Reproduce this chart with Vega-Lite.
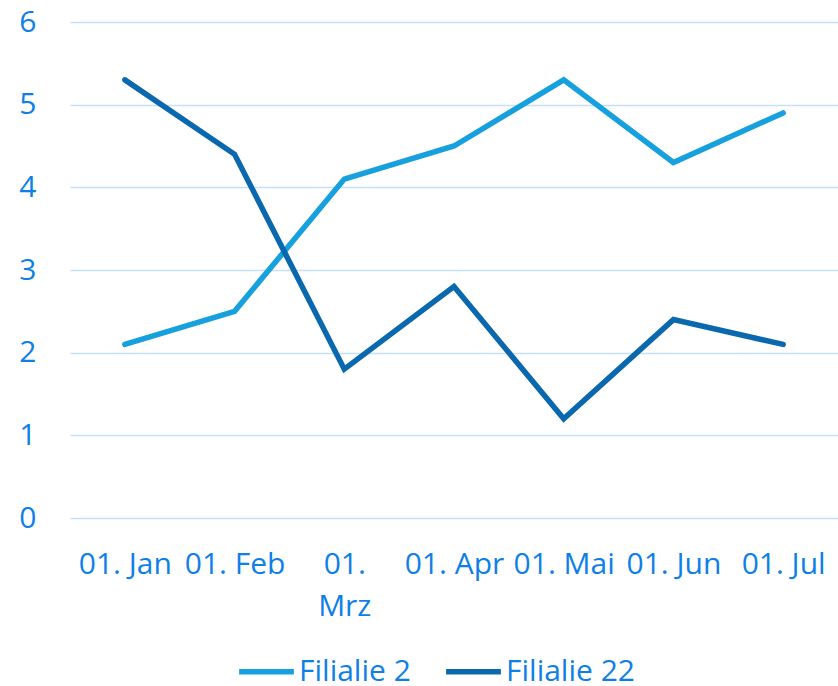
{
  "$schema": "https://vega.github.io/schema/vega-lite/v6.json",
  "width": 768,
  "height": 496,
  "autosize": "none",
  "padding": {"left": 70, "top": 22, "right": 0, "bottom": 168},
  "background": "white",
  "config": {
    "font": "Open Sans",
    "view": {"stroke": null}
  },
  "data": {
    "values": [
      {"datum": "01. Jan", "serie": "Filialie 2", "wert": 2.1},
      {"datum": "01. Feb", "serie": "Filialie 2", "wert": 2.5},
      {"datum": "01. Mrz", "serie": "Filialie 2", "wert": 4.1},
      {"datum": "01. Apr", "serie": "Filialie 2", "wert": 4.5},
      {"datum": "01. Mai", "serie": "Filialie 2", "wert": 5.3},
      {"datum": "01. Jun", "serie": "Filialie 2", "wert": 4.3},
      {"datum": "01. Jul", "serie": "Filialie 2", "wert": 4.9},
      {"datum": "01. Jan", "serie": "Filialie 22", "wert": 5.3},
      {"datum": "01. Feb", "serie": "Filialie 22", "wert": 4.4},
      {"datum": "01. Mrz", "serie": "Filialie 22", "wert": 1.8},
      {"datum": "01. Apr", "serie": "Filialie 22", "wert": 2.8},
      {"datum": "01. Mai", "serie": "Filialie 22", "wert": 1.2},
      {"datum": "01. Jun", "serie": "Filialie 22", "wert": 2.4},
      {"datum": "01. Jul", "serie": "Filialie 22", "wert": 2.1}
    ]
  },
  "mark": {"type": "line", "strokeWidth": 5.5, "strokeCap": "round", "strokeJoin": "miter"},
  "encoding": {
    "x": {
      "field": "datum",
      "type": "ordinal",
      "sort": null,
      "scale": {"type": "point", "padding": 0.5},
      "axis": {
        "title": null,
        "labelAngle": 0,
        "labelFontSize": 30,
        "labelColor": "#0f7fe8",
        "labelPadding": 31,
        "labelLineHeight": 42,
        "labelExpr": "datum.label == '01. Mrz' ? ['01.', 'Mrz'] : datum.label",
        "labelOverlap": false,
        "ticks": false,
        "domain": false,
        "grid": false
      }
    },
    "y": {
      "field": "wert",
      "type": "quantitative",
      "scale": {"domain": [0, 6], "nice": false},
      "axis": {
        "title": null,
        "values": [0, 1, 2, 3, 4, 5, 6],
        "format": "d",
        "labelFontSize": 30,
        "labelColor": "#0f7fe8",
        "labelPadding": 34,
        "ticks": false,
        "domain": false,
        "grid": true,
        "gridColor": "#c6e0f6",
        "gridWidth": 1.5
      }
    },
    "color": {
      "field": "serie",
      "type": "nominal",
      "scale": {"domain": ["Filialie 2", "Filialie 22"], "range": ["#16a0dd", "#0a68ae"]},
      "legend": {
        "title": null,
        "orient": "none",
        "legendX": 166,
        "legendY": 619,
        "direction": "horizontal",
        "symbolType": "stroke",
        "symbolSize": 3000,
        "symbolStrokeWidth": 5.5,
        "labelFontSize": 30,
        "labelColor": "#0f7fe8",
        "labelOffset": 2,
        "columnPadding": 24
      }
    }
  }
}
